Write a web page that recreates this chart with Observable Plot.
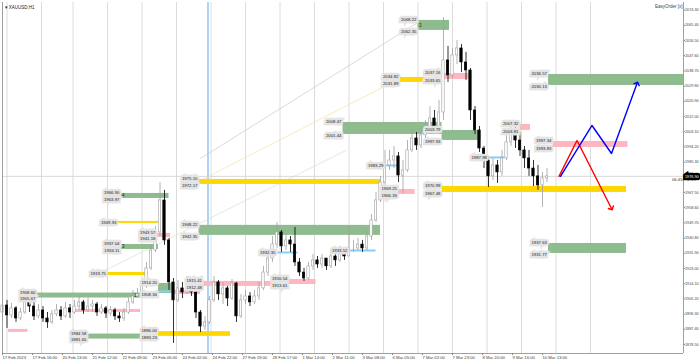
<!DOCTYPE html>
<html><head><meta charset="utf-8">
<script src="https://cdn.jsdelivr.net/npm/d3@7"></script>
<script src="https://cdn.jsdelivr.net/npm/@observablehq/plot@0.6"></script>
<style>body{margin:0;background:#fff;} #chart svg{display:block;}</style>
</head><body><div id="chart"></div>
<script>
// ---- candles (one candle per 3 hourly bars), prices ----
const firstOpen = 1897.2;
const closes = [
1901.3,1895.5,1899.6,1893.7,1897.2,1903.1,1900.7,1894.9,1898.4,1893.7,
1891.4,1896.1,1898.4,1894.9,1899.6,1897.2,1900.7,1903.1,1898.4,1900.7,
1901.9,1897.2,1899.6,1896.6,1898.4,1894.9,1893.7,1897.2,1903.1,1906.6,
1907.8,1913.0,1923.0,1933.5,1944.1,1962.8,1939.4,1914.8,1904.3,1911.3,
1908.9,1916.0,1908.9,1897.2,1889.0,1891.4,1904.3,1914.8,1907.8,1911.3,
1905.4,1914.2,1894.9,1904.3,1906.6,1903.1,1906.6,1911.3,1920.6,1928.8,
1937.0,1944.1,1935.9,1939.4,1937.0,1926.5,1920.6,1917.1,1924.2,1927.7,
1925.3,1928.8,1924.2,1930.0,1927.7,1932.4,1930.0,1934.7,1934.7,1937.0,
1934.7,1941.7,1951.1,1962.8,1973.3,1983.3,1986.2,1988.6,1977.4,1980.4,
1992.1,1999.1,1995.0,2000.9,2003.8,2010.8,2006.1,2014.3,2044.8,2036.0,
2047.7,2051.8,2043.6,2038.9,2015.5,2003.8,1993.2,1986.2,1976.9,1983.3,
1979.2,1987.4,1996.8,2002.6,1997.9,1992.1,1987.4,1981.5,1976.9,1971.6,
1975.7,1976.9];
const highs = [
1905.4,1904.3,1902.5,1900.7,1899.6,1906.6,1905.4,1903.1,1901.9,1900.7,
1897.2,1898.4,1901.9,1900.7,1903.1,1901.9,1904.3,1906.6,1904.3,1905.4,
1904.3,1903.1,1901.9,1900.7,1900.7,1899.6,1897.2,1899.6,1905.4,1910.1,
1911.3,1916.0,1926.5,1937.0,1947.6,1973.3,1968.7,1940.6,1917.1,1916.0,
1914.8,1918.3,1917.1,1910.1,1898.4,1894.9,1906.6,1918.3,1916.0,1914.8,
1912.4,1916.5,1914.8,1907.8,1910.1,1908.9,1910.1,1914.8,1924.2,1933.5,
1941.7,1949.9,1945.2,1942.9,1941.7,1947.0,1928.8,1923.0,1926.5,1931.2,
1930.0,1931.2,1928.8,1933.5,1934.7,1935.9,1934.7,1947.6,1939.4,1940.6,
1939.4,1945.2,1954.6,1967.5,1976.9,1992.1,1992.1,1994.4,1990.9,1986.2,
1997.9,2005.0,2002.6,2006.1,2009.6,2017.8,2015.5,2021.4,2069.9,2053.0,
2051.8,2056.5,2054.1,2049.5,2040.1,2017.8,2006.1,1994.4,1988.6,1987.4,
1986.2,1992.1,2001.4,2007.3,2006.1,2002.6,1994.4,1992.1,1986.2,1983.3,
1979.2,1981.5];
const lows = [
1893.7,1887.9,1893.7,1891.4,1892.5,1896.1,1897.2,1892.5,1893.7,1891.4,
1887.9,1890.2,1894.9,1892.5,1893.7,1893.7,1896.1,1898.4,1896.1,1897.2,
1897.2,1894.9,1896.1,1893.7,1894.9,1892.5,1891.4,1892.0,1896.1,1901.9,
1905.4,1906.6,1911.3,1921.8,1932.4,1941.7,1936.5,1910.1,1879.1,1903.1,
1905.4,1907.8,1906.6,1893.7,1885.5,1886.7,1890.2,1903.1,1904.3,1901.9,
1900.7,1904.3,1891.4,1893.7,1901.9,1900.7,1901.9,1904.3,1910.1,1918.3,
1926.5,1934.7,1932.4,1933.5,1932.4,1924.2,1918.3,1915.4,1916.0,1921.8,
1923.0,1923.0,1921.8,1923.0,1924.2,1926.5,1927.7,1930.0,1932.4,1933.5,
1932.4,1933.5,1939.4,1949.9,1961.6,1971.0,1980.4,1981.5,1973.3,1966.9,
1979.2,1990.9,1992.1,1993.2,1997.9,2001.4,2002.6,2003.8,2009.6,2031.9,
2034.2,2042.4,2037.7,2033.1,2009.6,2001.4,1990.9,1981.5,1970.4,1974.5,
1972.8,1976.9,1986.2,1994.4,1993.2,1988.6,1981.5,1976.9,1971.0,1968.7,
1958.7,1973.3];
const barsPerCandle = 3;

// ---- zones: [startBar, endBar, top, bottom, showLabels] ----
const greenZones = [
  [277,298,2068.22,2062.35,1],[227,293,2008.47,2001.44,1],[293,319,2003.79,1997.93,1],
  [364,454.6,2036.57,2030.13,1],[364,416,1937.63,1931.77,1],[131,252,1948.22,1942.35,1],
  [79,111,1966.90,1963.97,1],[79,104,1937.04,1934.11,1],[23,92,1908.60,1905.67,1],
  [57,92,1884.58,1881.65,1],[104,113,1914.20,1908.34,1]];
const yellowZones = [
  [265,293,2034.82,2031.89,1],[131,252,1975.10,1972.17,1],[293,416,1970.99,1967.48,1],
  [77,104,1950.52,1949.35,2],[70,97,1920.63,1918.87,2],[104,152,1886.00,1883.23,1]];
const pinkZones = [
  [47,92,1898.99,1897.23,0],[4,17,1887.31,1885.55,0],[103,112,1943.52,1941.18,1],
  [114,132,1910.13,1907.79,0],[134,190,1915.41,1912.48,1],[191,209,1916.54,1913.61,1],
  [264,275,1969.25,1966.33,1],[293,311,2037.16,2033.65,1],[345,352,2007.32,2003.81,1],
  [367,417,1997.34,1993.83,1]];
// ---- short level lines: [startBar, endBar, price, showLabel] ----
const blueLevels = [[255,263,1983.29,1],[324,335,1987.98,1],[183,197,1932.35,1],[231,249,1933.52,1],[103,113,1909.54,0]];
// zone counters
const zoneMarks = [[79,1965.4,"4"],[79,1935.6,"3"],[87,1907.1,"1"],[277,2065.3,"3"]];
// faint trend lines
const greyTrend = [[132,1987.38],[277,2067.02]];
const yellowTrend = [[132,1974.51],[265,2034.23]];
const greenTrend = [[59,1917.71],[229,1992.07]];
// projected paths
const redPath = [[371,1976.9],[383,1997.9],[406,1958.1]];
const bluePath = [[372,1976.9],[393,2006.7],[406,1990.3],[423,2031.3]];
// day separators and week marker (bar numbers)
const daySeparators = [3,26,47,70,93,116,139,162,185,208,231,254,277,300,323,346,369,392];
const weekMarker = [137];
// axes
const priceTicks = [1878.50,1887.40,1896.30,1905.20,1914.10,1923.00,1931.90,1940.80,1949.70,1958.60,
  1967.50,1976.40,1985.30,1994.20,2003.10,2012.00,2020.90,2029.80,2038.70,2047.60,2056.50,2065.40,2074.30];
const dateTickBars = [0,20,40,60,80,100,120,140,160,180,200,220,240,260,280,300,320,340,360];
const dateTickLabels = ["17 Feb 2023","17 Feb 16:00","20 Feb 13:00","21 Feb 12:00","22 Feb 09:00","23 Feb 05:00",
  "24 Feb 02:00","24 Feb 22:00","27 Feb 19:00","28 Feb 17:00","1 Mar 14:00","2 Mar 11:00","3 Mar 08:00",
  "6 Mar 05:00","7 Mar 02:00","7 Mar 23:00","8 Mar 20:00","9 Mar 16:00","10 Mar 13:00"];
const xDomain = [0, 454];
const yDomain = [1873.2, 2078.7];

// ---- build tables ----
const candles = closes.map((c, i) => ({
  b: i * barsPerCandle, o: i === 0 ? firstOpen : closes[i - 1], c, h: highs[i], l: lows[i]
}));
candles.forEach(d => d.bull = d.c >= d.o);
const toZone = (arr, fill) => arr.map(([b1,b2,top,bot,lab]) => ({b1,b2: Math.min(b2, xDomain[1]),top,bot,lab,fill}));
const zones = [...toZone(greenZones,"#8fbc8f"), ...toZone(yellowZones,"#ffd700"), ...toZone(pinkZones,"#ffb6c1")];
const fmt = d3.format(".2f");
const zoneLabels = [];
zones.forEach(z => {
  if (z.lab === 1) { zoneLabels.push({b:z.b1, p:z.top, off:-0.8}); zoneLabels.push({b:z.b1, p:z.bot, off:0.8}); }
  else if (z.lab === 2) { zoneLabels.push({b:z.b1, p:(z.top+z.bot)/2, off:0}); }
});
blueLevels.forEach(([b1,b2,p,lab]) => { if (lab) zoneLabels.push({b:b1, p, off:0}); });
const labelsUp = zoneLabels.filter(d => d.off < 0), labelsDown = zoneLabels.filter(d => d.off > 0), labelsMid = zoneLabels.filter(d => d.off === 0);
const levels = blueLevels.map(([b1,b2,p]) => ({b1,b2,p}));
const lastClose = closes[closes.length - 1];
const labelMap = new Map(dateTickBars.map((b,i)=>[b, dateTickLabels[i]]));
const pts = a => a.map(([b,p]) => ({b,p}));
const labelStyle = {x: "b", y: "p", text: d => fmt(d.p), textAnchor: "end", dx: -1.5,
  fontSize: 4.3, fill: "#222", stroke: "#e4e4e4", strokeWidth: 4.5, strokeLinejoin: "miter"};

const chart = Plot.plot({
  width: 700, height: 362,
  marginLeft: 2, marginRight: 17, marginTop: 2, marginBottom: 9,
  x: {domain: xDomain, axis: null},
  y: {domain: yDomain, axis: null},
  style: {fontFamily: "Liberation Sans, Arial, sans-serif", fontSize: "4px", background: "#fff", color: "#333"},
  marks: [
    Plot.ruleX(daySeparators, {stroke: "#dcdcdc", strokeWidth: 1}),
    Plot.ruleX(weekMarker, {stroke: "#5aa6f0", strokeWidth: 1}),
    Plot.ruleY([lastClose], {stroke: "#d0d0d0", strokeWidth: 0.8}),
    Plot.line(pts(greyTrend), {x: "b", y: "p", stroke: "#c8c8c8", strokeWidth: 0.7}),
    Plot.line(pts(yellowTrend), {x: "b", y: "p", stroke: "#f3e3a0", strokeWidth: 0.7}),
    Plot.line(pts(greenTrend), {x: "b", y: "p", stroke: "#cfe3cf", strokeWidth: 0.7}),
    Plot.rect(zones, {x1: "b1", x2: "b2", y1: "bot", y2: "top", fill: d => d.fill}),
    Plot.ruleY(levels, {x1: "b1", x2: "b2", y: "p", stroke: "#87cefa", strokeWidth: 2}),
    Plot.ruleX(candles, {x: "b", y1: "l", y2: "h", stroke: d => d.bull ? "#a0a0a0" : "#000", strokeWidth: 0.8}),
    Plot.rect(candles, {x1: d => d.b - 0.8, x2: d => d.b + 0.8, y1: "o", y2: "c",
      fill: d => d.bull ? "#ffffff" : "#000", stroke: d => d.bull ? "#a0a0a0" : "#000", strokeWidth: 0.6}),
    Plot.line(pts(redPath), {x: "b", y: "p", stroke: "#ff0000", strokeWidth: 1.4, markerEnd: "arrow"}),
    Plot.line(pts(bluePath), {x: "b", y: "p", stroke: "#0000ff", strokeWidth: 1.4, markerEnd: "arrow"}),
    Plot.text(labelsUp, {...labelStyle, dy: -0.8}),
    Plot.text(labelsDown, {...labelStyle, dy: 0.8}),
    Plot.text(labelsMid, labelStyle),
    Plot.text(zoneMarks, {x: d => d[0], y: d => d[1], text: d => d[2], textAnchor: "start", dx: 1, fontSize: 4.5, fill: "#222"}),
    Plot.ruleX([xDomain[0]], {stroke: "#a0a0a0"}),
    Plot.ruleX([xDomain[1]], {stroke: "#a0a0a0"}),
    Plot.ruleY([yDomain[0]], {stroke: "#a0a0a0"}),
    Plot.axisY(priceTicks, {anchor: "right", tickSize: 1, tickPadding: 0.5, tickFormat: fmt, fontSize: 3.8, stroke: "#888", fill: "#444"}),
    Plot.axisX(dateTickBars, {anchor: "bottom", tickSize: 2, tickPadding: 1, textAnchor: "start",
      tickFormat: d => labelMap.get(d), fontSize: 4.2, stroke: "#888", fill: "#444"}),
    Plot.text([lastClose], {y: d => d, frameAnchor: "right", textAnchor: "start", dx: 1.5, text: d => fmt(d),
      fontSize: 3.8, fill: "#fff", stroke: "#000", strokeWidth: 4.5, strokeLinejoin: "miter"}),
    Plot.text([lastClose], {y: d => d, frameAnchor: "right", textAnchor: "end", dx: -1, dy: 3, text: () => "06:45", fontSize: 4.2, fill: "#333"}),
    Plot.text(["\u25BE XAUUSD,H1"], {frameAnchor: "top-left", textAnchor: "start", dx: 2, dy: 3, fontSize: 4.5, fill: "#222"}),
    Plot.text(["EasyOrder [x]"], {frameAnchor: "top-right", textAnchor: "end", dx: -1, dy: 2, fontSize: 4.5, fill: "#444"})
  ]
});
document.getElementById("chart").append(chart);
</script>
</body></html>
